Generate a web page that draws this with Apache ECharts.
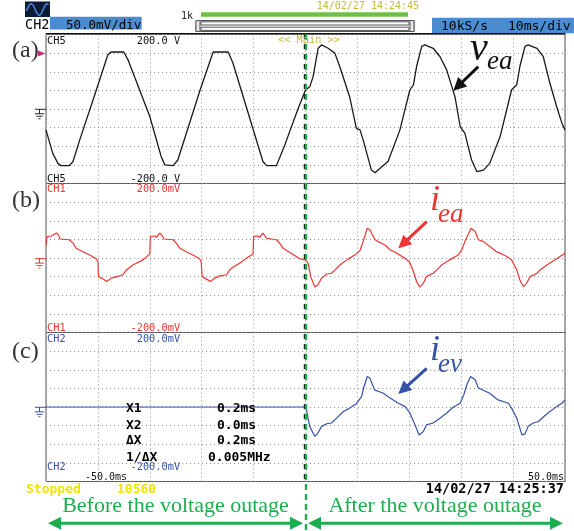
<!DOCTYPE html>
<html><head><meta charset="utf-8">
<script src="https://cdn.jsdelivr.net/npm/echarts@6/dist/echarts.min.js"></script>
<style>html,body{margin:0;padding:0;background:#fff;}#c{width:574px;height:531px;}</style>
</head><body><div id="c"></div>
<script>
// ---- Data (time in ms, values in V / mV) ----
const vEaTime = [-50,-48.7,-47.7,-47.1,-45.5,-44.8,-43.5,-40.3,-38.1,-37.5,-35.0,-34.2,-30.0,-27.8,-27.1,-25.5,-24.6,-20.4,-17.8,-14.9,-14.0,-8.2,-7.5,-5.6,-4.0,-1.4,0,
  0.2,0.83,1.47,2.43,3.09,4.36,5.65,6.6,8.5,9.8,10.5,11.1,12.7,13.4,14.7,15.9,18.2,20.1,20.8,21.4,22.4,23.0,24.6,25.9,27.2,28.8,29.8,30.7,32.0,33.0,34.3,35.5,37.5,39.7,40.7,41.3,42.3,42.9,44.6,45.8,47.1,48.4,49.4,50];
const vEaVolt = [-56,-119,-146,-152,-152,-141,-83,51,145,153,153,132,-20,-128,-150,-152,-137,47,153,153,124,-141,-152,-152,-97,2,51,
  56,60,87,163,172,163,150,114,33,-52,-56,-83,-164,-171,-155,-141,-56,51,65,114,168,172,163,141,105,33,-47,-65,-137,-168,-164,-146,-74,51,65,114,168,172,163,141,69,6,-38,-56];

const iEaTime = [-50,-49.8,-49.6,-49.0,-48.7,-48.0,-47.6,-47.3,-45.5,-44.8,-44.2,-42.9,-41.6,-40.3,-40.0,-39.9,-39.3,-39.0,-38.3,-37.4,-35.8,-35.2,-34.5,-33.2,-31.3,-30.0,-29.9,
  -29.7,-29.1,-28.7,-28.1,-27.7,-27.3,-25.5,-24.9,-24.2,-23.0,-21.7,-20.4,-20.1,-19.9,-19.4,-19.1,-18.3,-17.5,-16.5,-15.2,-14.6,-14.0,-12.7,-11.4,-10.1,-10.0,
  -9.8,-9.2,-8.8,-8.2,-7.5,-5.6,-5.0,-4.3,-3.0,-1.1,-0.1,
  0.5,1.0,1.8,2.4,3.1,4.1,5.0,5.7,6.6,8.2,9.8,10.5,11.1,11.9,12.4,13.4,14.0,15.3,16.3,17.6,19.2,20.1,20.8,21.4,22.0,22.7,23.3,24.6,25.3,26.2,27.8,29.4,30.1,30.7,31.9,32.7,33.3,34.3,35.5,36.8,38.8,39.7,40.7,41.3,42.0,42.6,43.3,44.6,45.2,46.5,48.1,50];
const iEaMilliVolt = [35,57,53,59,56,67,62,51,49,40,26,17,8,-2,-10,-50,-54,-50,-63,-54,-48,-45,-32,-18,-5,11,57,
  53,59,56,67,62,51,49,40,26,17,8,-2,-10,-50,-54,-50,-63,-54,-48,-45,-32,-25,-14,-1,11,58,
  53,59,56,67,53,49,40,26,15,-2,-5,
  -14,-50,-78,-72,-54,-43,-41,-32,-19,-3,11,20,44,80,76,49,44,35,22,13,-1,-12,-37,-63,-78,-68,-50,-41,-32,-19,-5,8,22,44,80,71,49,44,31,17,4,-5,-32,-59,-77,-68,-50,-41,-32,-19,-5,13];

const iEvTime = [-50,0,0.2,0.8,1.8,2.4,3.1,4.1,5.0,6.0,7.3,8.5,9.8,10.8,11.2,11.9,12.4,13.3,15.0,16.3,17.9,19.2,20.1,21.1,21.9,22.7,23.3,24.6,25.9,27.2,28.5,29.8,30.5,31.1,31.8,32.7,33.3,35.5,37.1,39.1,39.7,40.7,41.7,42.3,42.9,43.9,44.9,45.8,47.1,48.4,49.4,50];
const iEvMilliVolt = [0,0,-8,-52,-79,-70,-52,-45,-43,-30,-12,-3,9,28,51,82,78,46,37,24,10,1,-16,-48,-75,-66,-48,-43,-30,-16,0,10,33,60,82,73,51,37,19,10,-3,-30,-75,-72,-52,-43,-39,-27,-12,1,10,19];

// Axis scale (ms/div span and ±full-scale per panel)
const timeRange = [-50, 50];
const ampRange = [-200, 200];

// ---- helpers for annotations ----
const MONO = '"DejaVu Sans Mono", monospace';
const SERIF = '"Liberation Serif", "DejaVu Serif", serif';
function T(x, y, text, font, fill, align) {
  return {type:'text', z:120, silent:true, style:{x:x, y:y, text:text, font:font, fill:fill,
    align:align||'left', verticalAlign:'middle', textAlign:align||'left', textVerticalAlign:'middle'}};
}
function L(x1,y1,x2,y2,color,w,dash){
  return {type:'line', z:110, silent:true, shape:{x1:x1,y1:y1,x2:x2,y2:y2}, style:{stroke:color, lineWidth:w||1, lineDash:dash||null}};
}
function R(x,y,w,h,fill,stroke,lw){
  return {type:'rect', z:105, silent:true, shape:{x:x,y:y,width:w,height:h}, style:{fill:fill||'none', stroke:stroke||null, lineWidth:lw||1}};
}
function head(xt,yt,xf,yf,color,len,hw){
  const dx=xt-xf, dy=yt-yf, d=Math.sqrt(dx*dx+dy*dy), ux=dx/d, uy=dy/d;
  const bx=xt-ux*len, by=yt-uy*len;
  return {type:'polygon', z:115, silent:true, shape:{points:[[xt,yt],[bx-uy*hw,by+ux*hw],[bx+uy*hw,by-ux*hw]]}, style:{fill:color}};
}
function arrow(x1,y1,x2,y2,color,w,len,hw){
  const dx=x2-x1, dy=y2-y1, d=Math.sqrt(dx*dx+dy*dy);
  const ex=x2-dx/d*len*0.8, ey=y2-dy/d*len*0.8;
  return [L(x1,y1,ex,ey,color,w), head(x2,y2,x1,y1,color,len,hw)];
}
function dblArrow(x1,x2,y,color){
  return [L(x1+10,y,x2-10,y,color,3), head(x1,y,x2,y,color,13,6.5), head(x2,y,x1,y,color,13,6.5)];
}
function ground(yc,color){
  return [L(35,yc,46,yc,color,1), L(39.5,yc,39.5,yc+4.5,color,1), L(35,yc+4.5,44,yc+4.5,color,1), L(36.5,yc+7,42.5,yc+7,color,1), L(38.5,yc+9.5,40.5,yc+9.5,color,1)];
}
const zip = (a,b) => a.map((t,i)=>[t,b[i]]);

const GREEN = '#1fae4f';
const RED = '#ee3434';
const BLUE = '#3552a6';
const OLIVE = '#c2b93a';
const els = [];
// header
els.push(R(25,1.5,25,15.5,'#0b1a35'));
els.push({type:'polyline', z:112, silent:true, shape:{points:[[26.5,11],[28.5,6.5],[30.5,4],[32.5,4.5],[34.5,8],[36.5,12.5],[38.5,15],[40.5,14.5],[42.5,11],[44.5,6.5],[46.5,4],[48.5,4.5]], smooth:0.4}, style:{stroke:'#4a7fd0', lineWidth:1.6, fill:'none'}});
els.push(T(25,25.4,'CH2','13.5px '+MONO,'#000'));
els.push(R(50,16.7,91.7,12.8,'#4a8ccf'));
els.push(T(66,25.3,'50.0mV/div','12.5px '+MONO,'#000'));
els.push(T(181,16,'1k','10px '+MONO,'#222'));
els.push(R(201,12.3,207,4.4,'#6cc04a'));
els.push(R(196,20.5,218,11,'#fff','#555',1));
els.push(R(196,20.5,4,11,'#e8e8e8','#555',1));
els.push(R(410,20.5,4,11,'#e8e8e8','#555',1));
els.push(R(201,21.8,208,3.2,'none','#555',1));
els.push(R(201,27.2,208,3.2,'none','#555',1));
els.push(T(316.7,6.1,'14/02/27 14:24:45','10px '+MONO,OLIVE));
els.push(R(432,17.7,142,15.6,'#4a8ccf'));
els.push(T(441,27,'10kS/s','13px '+MONO,'#000'));
els.push(T(508,27,'10ms/div','13px '+MONO,'#000'));
els.push(L(45.5,33.5,565.5,33.5,'#111',1.2));
els.push(T(278,40.8,'<< Main >>','10.3px '+MONO,OLIVE));
// panel texts
const F = '10.3px '+MONO;
els.push(T(47,41,'CH5',F,'#111'), T(136.7,41,'200.0 V',F,'#111'));
els.push(T(47,179.4,'CH5',F,'#111'), T(130.5,179.4,'-200.0 V',F,'#111'));
els.push(T(47,189.5,'CH1',F,RED), T(136.7,189.5,'200.0mV',F,RED));
els.push(T(47,328,'CH1',F,RED), T(130.5,328,'-200.0mV',F,RED));
els.push(T(47,339.5,'CH2',F,BLUE), T(136.7,339.5,'200.0mV',F,BLUE));
els.push(T(47,467.5,'CH2',F,BLUE), T(130.5,467.5,'-200.0mV',F,BLUE));
els.push(T(85,477.5,'-50.0ms','10px '+MONO,'#111'));
els.push(T(564,477.5,'50.0ms','10px '+MONO,'#111','right'));
// cursor readouts
const CF = 'bold 13px '+MONO;
els.push(T(126,408.7,'X1',CF,'#000'), T(217,408.7,'0.2ms',CF,'#000'));
els.push(T(126,425.4,'X2',CF,'#000'), T(217,425.4,'0.0ms',CF,'#000'));
els.push(T(126,440.7,'ΔX',CF,'#000'), T(217,440.7,'0.2ms',CF,'#000'));
els.push(T(126,457.4,'1/ΔX',CF,'#000'), T(208,457.4,'0.005MHz',CF,'#000'));
els.push(T(26,489.4,'Stopped','bold 13px '+MONO,'#f2e200'), T(117,489.4,'10560','bold 13px '+MONO,'#f2e200'));
els.push(T(564,489.7,'14/02/27 14:25:37','bold 13.5px '+MONO,'#000','right'));
// panel letters
els.push(T(12,51,'(a)','24px '+SERIF,'#333'), T(12,201,'(b)','24px '+SERIF,'#333'), T(12,352,'(c)','24px '+SERIF,'#333'));
// markers
els.push({type:'polygon', z:115, silent:true, shape:{points:[[38,50.5],[45.5,53.5],[38,56.5]]}, style:{fill:'#c0307a'}});
els.push(...ground(109.3,'#222'), ...ground(258.6,RED), ...ground(407.3,BLUE));
// signal labels + arrows
els.push(T(470,49.6,'v','italic 40px '+SERIF,'#111'), T(487,62,'ea','italic 27px '+SERIF,'#111'));
els.push(...arrow(478.3,66.7,453.3,90.7,'#111',3,13,6.5));
els.push(T(430,200.8,'i','italic 36px '+SERIF,RED), T(438,214.6,'ea','italic 27px '+SERIF,RED));
els.push(...arrow(426.7,221.7,398.3,248.3,RED,3,13,6.5));
els.push(T(430,350.8,'i','italic 36px '+SERIF,BLUE), T(438,364.6,'ev','italic 27px '+SERIF,BLUE));
els.push(...arrow(426.7,368.3,398.3,394,BLUE,3,13,6.5));
// outage divider
els.push(L(304.6,34,304.6,481,'#111',1.6,[5,5]));
els.push(L(306,34,306,531,GREEN,2.4,[6,4]));
// bottom annotations
els.push(T(175.5,506,'Before the voltage outage','22px '+SERIF,GREEN,'center'));
els.push(T(435,506,'After the voltage outage','22px '+SERIF,GREEN,'center'));
els.push(...dblArrow(48,303,523.3,GREEN));
els.push(...dblArrow(308,563,523.3,GREEN));

const grids=[0,1,2];
const option = {
  backgroundColor:'#fff',
  animation:false,
  grid: grids.map(i=>({left:46, width:519, top:34.5+149*i, height:149, show:true, borderColor:'#555', borderWidth:1, backgroundColor:'transparent'})),
  xAxis: grids.map(i=>({type:'value', gridIndex:i, min:timeRange[0], max:timeRange[1], interval:10,
    axisLine:{show:false}, axisTick:{show:false}, axisLabel:{show:false},
    splitLine:{show:true, lineStyle:{color:'#8c8c8c', type:[1,3], width:1}}})),
  yAxis: grids.map(i=>({type:'value', gridIndex:i, min:ampRange[0], max:ampRange[1], interval:50,
    axisLine:{show:false}, axisTick:{show:false}, axisLabel:{show:false},
    splitLine:{show:true, lineStyle:{color:'#8c8c8c', type:[1,3], width:1}}})),
  series: [
    {type:'line', xAxisIndex:0, yAxisIndex:0, data:zip(vEaTime,vEaVolt), showSymbol:false, symbol:'none', silent:true, lineStyle:{color:'#1a1a1a', width:1.3}},
    {type:'line', xAxisIndex:1, yAxisIndex:1, data:zip(iEaTime,iEaMilliVolt), showSymbol:false, symbol:'none', silent:true, lineStyle:{color:RED, width:1.2}},
    {type:'line', xAxisIndex:2, yAxisIndex:2, data:zip(iEvTime,iEvMilliVolt), showSymbol:false, symbol:'none', silent:true, lineStyle:{color:BLUE, width:1.2}}
  ],
  graphic: {elements: els}
};
const chart = echarts.init(document.getElementById('c'), null, {renderer:'canvas', width:574, height:531});
chart.setOption(option);
</script>
</body></html>
